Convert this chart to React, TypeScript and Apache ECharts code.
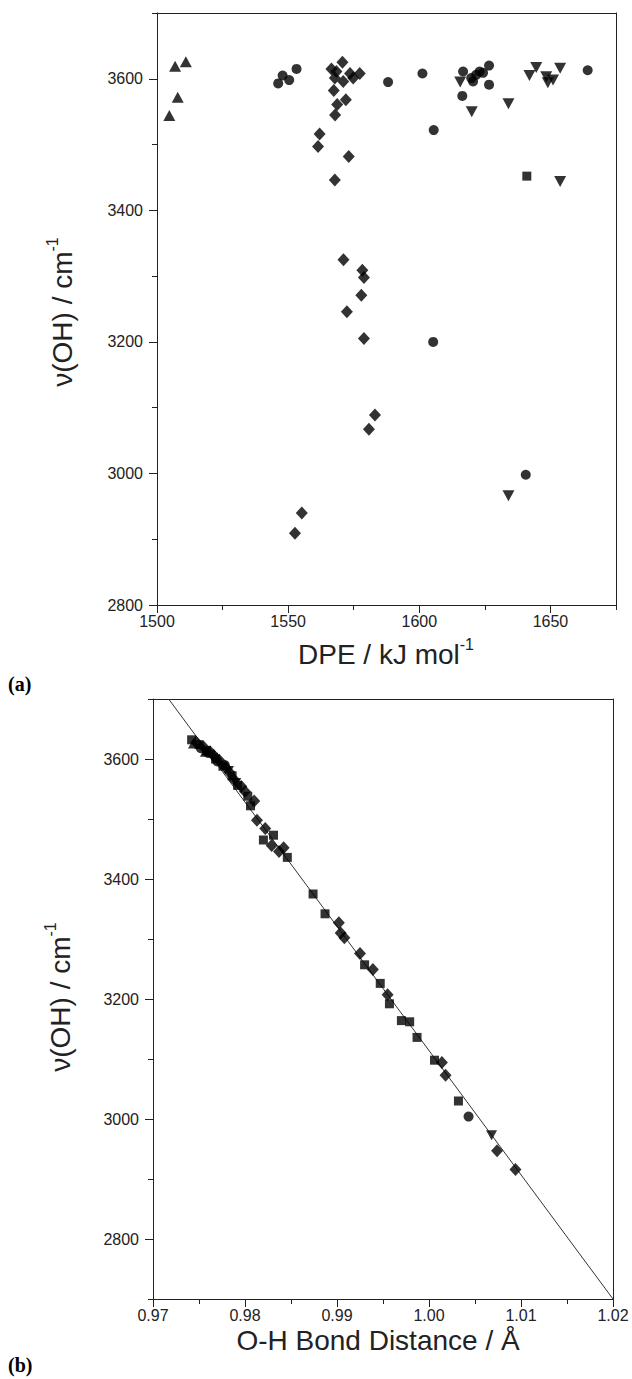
import React, { useEffect, useRef } from 'react';
import * as echarts from 'echarts';

// ---------- Panel (a): nu(OH) vs DPE ----------
const aXMajor = [1500, 1550, 1600, 1650];
const aXMinor = [1525, 1575, 1625, 1675];
const aYMajor = [2800, 3000, 3200, 3400, 3600];
const aYMinor = [2900, 3100, 3300, 3500, 3700];

const aSquareX = [1641];
const aSquareY = [3452];

const aCircleX = [1546.2, 1547.9, 1550.4, 1553.2, 1588.1, 1601.2, 1605.5, 1605.3, 1616.7, 1616.4, 1619.8, 1620.5, 1621.7, 1623.0, 1624.3, 1626.6, 1626.6, 1640.6, 1664.2];
const aCircleY = [3593, 3605, 3598, 3615, 3595, 3608, 3522, 3200, 3611, 3574, 3601, 3596, 3606, 3611, 3609, 3620, 3591, 2998, 3613];

const aTriUpX = [1504.7, 1507.9, 1506.9, 1511.0];
const aTriUpY = [3544, 3572, 3619, 3626];

const aDiamondX = [1566.5, 1568.4, 1570.7, 1567.8, 1571.0, 1573.6, 1577.3, 1574.8, 1567.4, 1572.0, 1568.7, 1567.9, 1562.0, 1561.4, 1573.1, 1567.8, 1571.1, 1578.3, 1578.9, 1577.9, 1572.4, 1578.9, 1583.1, 1580.8, 1555.2, 1552.6];
const aDiamondY = [3615, 3611, 3625, 3601, 3596, 3608, 3608, 3601, 3582, 3568, 3561, 3545, 3516, 3497, 3482, 3446, 3325, 3309, 3298, 3271, 3246, 3205, 3089, 3067, 2940, 2909];

const aTriDownX = [1615.6, 1620.0, 1634.0, 1642.0, 1644.6, 1648.4, 1649.0, 1651.0, 1653.7, 1653.7, 1634.0];
const aTriDownY = [3595, 3550, 3562, 3605, 3617, 3603, 3594, 3598, 3616, 3444, 2966];

// ---------- Panel (b): nu(OH) vs O-H bond distance ----------
const bXMajor = [0.97, 0.98, 0.99, 1.0, 1.01, 1.02];
const bXMinor = [0.975, 0.985, 0.995, 1.005, 1.015];
const bYMajor = [2800, 3000, 3200, 3400, 3600];
const bYMinor = [2700, 2900, 3100, 3300, 3500, 3700];

const bSquareX = [0.9742, 0.975, 0.9758, 0.9768, 0.9776, 0.9786, 0.9792, 0.9803, 0.9806, 0.982, 0.9831, 0.9846, 0.9874, 0.9887, 0.993, 0.9947, 0.9957, 0.997, 0.9979, 0.9987, 1.0006, 1.0032];
const bSquareY = [3632, 3624, 3614, 3600, 3588, 3572, 3556, 3538, 3522, 3465, 3473, 3436, 3375, 3342, 3257, 3226, 3192, 3164, 3162, 3136, 3098, 3030];

const bDiamondX = [0.9747, 0.9755, 0.9762, 0.9766, 0.9772, 0.9779, 0.9783, 0.9788, 0.9796, 0.98, 0.981, 0.9813, 0.9822, 0.9829, 0.9837, 0.9842, 0.9902, 0.9904, 0.9908, 0.9925, 0.9939, 0.9955, 1.0014, 1.0018, 1.0074, 1.0094];
const bDiamondY = [3628, 3620, 3612, 3606, 3598, 3586, 3578, 3566, 3554, 3546, 3530, 3498, 3484, 3456, 3446, 3452, 3327, 3310, 3302, 3276, 3249, 3207, 3094, 3073, 2947, 2916];

const bCircleX = [0.9752, 0.976, 0.977, 0.9778, 1.0043];
const bCircleY = [3618, 3610, 3596, 3590, 3004];

const bTriUpX = [0.9744, 0.9757];
const bTriUpY = [3626, 3612];

const bTriDownX = [0.9765, 0.9782, 0.979, 1.0068];
const bTriDownY = [3602, 3580, 3560, 2973];

const fitX = [0.9717, 1.02];
const fitY = [3700, 2700];

const zip = (xs: number[], ys: number[]) => xs.map((x, i) => [x, ys[i]]);

const SANS = '"Liberation Sans", Arial, sans-serif';
const AXIS_COLOR = '#222';
const LINE = { color: AXIS_COLOR, width: 1 };

function axisSet(grid: number, dim: 'x' | 'y', min: number, max: number, major: number[], minor: number[], fmt: (v: number) => string, labelMargin: number) {
  const main = dim === 'x' ? 'bottom' : 'left';
  const opp = dim === 'x' ? 'top' : 'right';
  return [
    {
      gridIndex: grid, type: 'value', min, max, position: main,
      axisLine: { show: true, onZero: false, lineStyle: LINE },
      axisTick: { show: true, inside: false, length: 8, customValues: major, lineStyle: LINE },
      axisLabel: { show: true, customValues: major, formatter: fmt, fontSize: 16, fontFamily: SANS, color: '#222', margin: labelMargin, showMinLabel: true, showMaxLabel: true },
      splitLine: { show: false },
    },
    {
      gridIndex: grid, type: 'value', min, max, position: main,
      axisLine: { show: false, onZero: false },
      axisTick: { show: true, inside: false, length: 5, customValues: minor, lineStyle: LINE },
      axisLabel: { show: false },
      splitLine: { show: false },
    },
    {
      gridIndex: grid, type: 'value', min, max, position: opp,
      axisLine: { show: true, onZero: false, lineStyle: LINE },
      axisTick: { show: false },
      axisLabel: { show: false },
      splitLine: { show: false },
    },
  ];
}

function scatter(name: string, data: number[][], axis: number, symbol: string, size: number | number[], rotate = 0) {
  return {
    name, type: 'scatter', data, xAxisIndex: axis, yAxisIndex: axis,
    symbol, symbolSize: size, symbolRotate: rotate,
    itemStyle: { color: '#000' }, z: 3,
  };
}

export default function App() {
  const ref = useRef<HTMLDivElement>(null);
  useEffect(() => {
    if (!ref.current) return;
    const chart = echarts.init(ref.current, null, { renderer: 'svg' });
    const fmtInt = (v: number) => String(Math.round(v));
    const fmt2 = (v: number) => v.toFixed(2);
    const titleRich = {
      t: { fontSize: 28, fontFamily: SANS, fill: '#222', verticalAlign: 'bottom', lineHeight: 32 },
      s: { fontSize: 16, fontFamily: SANS, fill: '#222', verticalAlign: 'top', lineHeight: 18 },
    };
    const option: any = {
      animation: false,
      backgroundColor: '#fff',
      grid: [
        { left: 157, top: 13, width: 459, height: 592 },
        { left: 153, top: 699, width: 460, height: 600 },
      ],
      xAxis: [
        ...axisSet(0, 'x', 1500, 1675, aXMajor, aXMinor, fmtInt, 8),
        ...axisSet(1, 'x', 0.97, 1.02, bXMajor, bXMinor, fmt2, 8),
      ],
      yAxis: [
        ...axisSet(0, 'y', 2800, 3700, aYMajor, aYMinor, fmtInt, 14),
        ...axisSet(1, 'y', 2700, 3700, bYMajor, bYMinor, fmtInt, 14),
      ],
      series: [
        scatter('a-square', zip(aSquareX, aSquareY), 0, 'rect', 9),
        scatter('a-circle', zip(aCircleX, aCircleY), 0, 'circle', 10),
        scatter('a-triup', zip(aTriUpX, aTriUpY), 0, 'triangle', [12, 11]),
        scatter('a-diamond', zip(aDiamondX, aDiamondY), 0, 'diamond', [12, 13]),
        scatter('a-tridown', zip(aTriDownX, aTriDownY), 0, 'triangle', [12, 11], 180),
        {
          name: 'fit', type: 'line', data: zip(fitX, fitY), xAxisIndex: 3, yAxisIndex: 3,
          symbol: 'none', lineStyle: { color: '#333', width: 1 }, z: 2, silent: true,
        },
        scatter('b-square', zip(bSquareX, bSquareY), 3, 'rect', 9),
        scatter('b-circle', zip(bCircleX, bCircleY), 3, 'circle', 10),
        scatter('b-triup', zip(bTriUpX, bTriUpY), 3, 'triangle', [11, 10]),
        scatter('b-diamond', zip(bDiamondX, bDiamondY), 3, 'diamond', [12, 13]),
        scatter('b-tridown', zip(bTriDownX, bTriDownY), 3, 'triangle', [11, 10], 180),
      ],
      graphic: [
        {
          type: 'text', x: 60, y: 312, rotation: Math.PI / 2,
          style: { text: '{t|ν(OH) / cm}{s|-1}', rich: titleRich, align: 'center', verticalAlign: 'middle' },
        },
        {
          type: 'text', x: 58, y: 997, rotation: Math.PI / 2,
          style: { text: '{t|ν(OH) / cm}{s|-1}', rich: titleRich, align: 'center', verticalAlign: 'middle' },
        },
        {
          type: 'text', x: 386, y: 652,
          style: { text: '{t|DPE / kJ mol}{s|-1}', rich: titleRich, align: 'center', verticalAlign: 'middle' },
        },
        {
          type: 'text', x: 378, y: 1340,
          style: { text: 'O-H Bond Distance / Å', fontSize: 28, fontFamily: SANS, fill: '#222', align: 'center', verticalAlign: 'middle' },
        },
        {
          type: 'text', x: 8, y: 684,
          style: { text: '(a)', fontSize: 20, fontWeight: 'bold', fontFamily: '"Liberation Serif", "Times New Roman", serif', fill: '#000', align: 'left', verticalAlign: 'middle' },
        },
        {
          type: 'text', x: 8, y: 1365,
          style: { text: '(b)', fontSize: 20, fontWeight: 'bold', fontFamily: '"Liberation Serif", "Times New Roman", serif', fill: '#000', align: 'left', verticalAlign: 'middle' },
        },
      ],
    };
    chart.setOption(option);
    return () => chart.dispose();
  }, []);
  return <div ref={ref} style={{ position: 'fixed', left: 0, top: 0, width: 632, height: 1379, background: '#fff' }} />;
}
